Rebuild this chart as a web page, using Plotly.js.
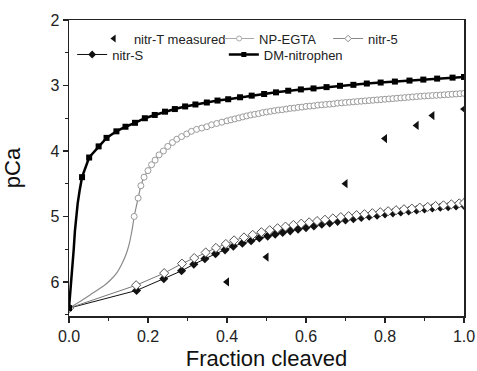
<!DOCTYPE html>
<html><head><meta charset="utf-8">
<script src="https://cdn.plot.ly/plotly-3.0.1.min.js"></script>
<style>html,body{margin:0;padding:0;background:#fff}#chart{width:477px;height:371px}</style>
</head><body><div id="chart"></div>
<script>
// nitr-T measured (points)
const nitrTX = [0.4, 0.5, 0.7, 0.8, 0.88, 0.92, 1.0];
const nitrTY = [6.0, 5.62, 4.5, 3.81, 3.61, 3.46, 3.36];

// NP-EGTA: leading part (line only) and marked part
const npLeadX = [0, 0.03, 0.06, 0.09, 0.105, 0.12, 0.135, 0.145, 0.152, 0.158, 0.162];
const npLeadY = [6.40, 6.29, 6.17, 6.05, 5.97, 5.87, 5.71, 5.57, 5.43, 5.26, 5.12];
const npX = [0.165,0.175,0.182,0.19,0.2,0.209,0.218,0.228,0.239,0.25,0.262,0.273,0.285,0.298,0.31,0.323,0.336,0.349,0.361,0.374,0.387,0.4,
  0.41,0.42,0.43,0.44,0.45,0.46,0.47,0.48,0.49,0.5,0.51,0.52,0.53,0.54,0.55,0.56,0.57,0.58,0.59,0.6,
  0.61,0.62,0.63,0.64,0.65,0.66,0.67,0.68,0.69,0.7,0.71,0.72,0.73,0.74,0.75,0.76,0.77,0.78,0.79,0.8,
  0.81,0.82,0.83,0.84,0.85,0.86,0.87,0.88,0.89,0.9,0.91,0.92,0.93,0.94,0.95,0.96,0.97,0.98,0.99,1.0];
const npY = [5.00,4.72,4.53,4.40,4.30,4.21,4.14,4.06,4.00,3.93,3.87,3.82,3.78,3.74,3.70,3.67,3.65,3.63,3.60,3.58,3.56,3.54,
  3.525,3.51,3.495,3.48,3.465,3.45,3.44,3.43,3.415,3.405,3.395,3.385,3.375,3.37,3.36,3.35,3.345,3.335,3.33,3.32,
  3.315,3.31,3.30,3.295,3.29,3.285,3.28,3.27,3.265,3.26,3.255,3.25,3.245,3.24,3.235,3.23,3.225,3.22,3.215,3.21,
  3.205,3.20,3.195,3.19,3.185,3.18,3.175,3.17,3.165,3.16,3.157,3.153,3.15,3.146,3.142,3.138,3.134,3.13,3.125,3.12];

// nitr-5 (open diamonds)
const n5X = [0,0.17,0.241,0.286,0.317,0.346,0.372,0.397,0.418,0.443,0.465,0.487,0.508,0.528,0.548,0.568,0.588,0.608,0.628,0.648,0.668,0.688,0.708,0.728,0.748,0.768,0.788,0.808,0.828,0.848,0.868,0.888,0.908,0.928,0.948,0.968,0.988,1.0];
const n5Y = [6.40,6.05,5.865,5.72,5.635,5.55,5.48,5.42,5.365,5.32,5.28,5.24,5.21,5.18,5.155,5.13,5.11,5.09,5.07,5.05,5.03,5.01,4.995,4.98,4.965,4.95,4.935,4.92,4.905,4.89,4.88,4.865,4.855,4.84,4.83,4.815,4.80,4.795];

// nitr-S (filled diamonds)
const nsX = [0,0.171,0.24,0.285,0.316,0.344,0.371,0.395,0.416,0.439,0.461,0.482,0.503,0.522,0.541,0.56,0.58,0.6,0.62,0.64,0.66,0.68,0.7,0.72,0.74,0.76,0.78,0.8,0.82,0.84,0.86,0.88,0.9,0.92,0.94,0.96,0.98,1.0];
const nsY = [6.40,6.13,5.95,5.83,5.73,5.645,5.57,5.51,5.455,5.41,5.37,5.33,5.30,5.27,5.245,5.22,5.195,5.17,5.145,5.12,5.10,5.075,5.055,5.035,5.015,4.995,4.98,4.96,4.945,4.93,4.915,4.90,4.885,4.87,4.86,4.85,4.84,4.83];

// DM-nitrophen: leading steep part (line only) and marked part
const dmLeadX = [0.003,0.006,0.009,0.012,0.015,0.018,0.022,0.027];
const dmLeadY = [6.2,6.0,5.75,5.5,5.22,5.0,4.8,4.6];
const dmX = [0,0.033,0.051,0.075,0.095,0.12,0.143,0.167,0.192,0.217,0.243,0.268,0.294,0.32,0.349,0.376,0.403,0.433,0.4625,0.494,0.524,0.555,0.587,0.619,0.652,0.686,0.72,0.754,0.789,0.825,0.862,0.897,0.932,0.971,1.0];
const dmY = [6.40,4.40,4.10,3.93,3.80,3.70,3.63,3.57,3.50,3.45,3.40,3.36,3.32,3.29,3.26,3.23,3.21,3.18,3.155,3.13,3.105,3.08,3.06,3.045,3.025,3.005,2.99,2.97,2.955,2.94,2.925,2.91,2.895,2.88,2.87];

function merge(ax, ay, bx, by){
  const pts = ax.map((v,i)=>[v,ay[i]]).concat(bx.map((v,i)=>[v,by[i]]));
  pts.sort((p,q)=>p[0]-q[0]);
  return [pts.map(p=>p[0]), pts.map(p=>p[1])];
}
const npLine = merge(npLeadX, npLeadY, npX, npY);
const dmLine = merge(dmLeadX, dmLeadY, dmX, dmY);

const F = '"Liberation Sans", Arial, sans-serif';
const traces = [
  {x: npLine[0], y: npLine[1], mode:'lines', line:{color:'#8a8a8a', width:1.2, shape:'spline', smoothing:0.6}, showlegend:false, hoverinfo:'skip'},
  {x: npX, y: npY, mode:'markers', marker:{symbol:'circle', size:6, color:'#fff', line:{color:'#9a9a9a', width:1}}, showlegend:false},
  {x: nsX, y: nsY, mode:'lines+markers', line:{color:'#111', width:1}, marker:{symbol:'diamond', size:7, color:'#111'}, showlegend:false},
  {x: n5X, y: n5Y, mode:'lines+markers', line:{color:'#777', width:1}, marker:{symbol:'diamond', size:7, color:'#fff', line:{color:'#555', width:1}}, showlegend:false},
  {x: dmLine[0], y: dmLine[1], mode:'lines', line:{color:'#000', width:2.5}, showlegend:false, hoverinfo:'skip'},
  {x: dmX, y: dmY, mode:'markers', marker:{symbol:'square', size:6, color:'#000'}, showlegend:false},
  {x: nitrTX, y: nitrTY, mode:'markers', marker:{symbol:'triangle-left', size:8, color:'#111'}, showlegend:false},
  // legend entries
  {x:[null], y:[null], name:'nitr-T measured', mode:'markers', marker:{symbol:'triangle-left', size:7, color:'#111'}, legend:'legend'},
  {x:[null], y:[null], name:'nitr-S', mode:'lines+markers', line:{color:'#111', width:1}, marker:{symbol:'diamond', size:6, color:'#111'}, legend:'legend4'},
  {x:[null], y:[null], name:'NP-EGTA', mode:'lines+markers', line:{color:'#aaa', width:1}, marker:{symbol:'circle', size:5, color:'#fff', line:{color:'#aaa', width:1}}, legend:'legend2'},
  {x:[null], y:[null], name:'DM-nitrophen', mode:'lines+markers', line:{color:'#000', width:2.5}, marker:{symbol:'square', size:5, color:'#000'}, legend:'legend5'},
  {x:[null], y:[null], name:'nitr-5', mode:'lines+markers', line:{color:'#888', width:1}, marker:{symbol:'diamond', size:5, color:'#fff', line:{color:'#888', width:1}}, legend:'legend3'}
];

const legBase = {bgcolor:'rgba(0,0,0,0)', borderwidth:0, font:{family:F, size:13, color:'#222'}, xanchor:'left', yanchor:'top', tracegroupgap:0, orientation:'v'};
const row1 = 0.988, row2 = 0.934;
const layout = {
  width:477, height:371,
  margin:{l:69, r:13, t:20, b:55},
  paper_bgcolor:'#fff', plot_bgcolor:'#fff',
  font:{family:F, color:'#222'},
  xaxis:{range:[0,1], dtick:0.2, tick0:0, tickformat:'.1f', ticks:'outside', ticklen:5, tickwidth:1.2, tickcolor:'#222',
    minor:{dtick:0.1, ticks:'outside', ticklen:3, tickwidth:1.2, tickcolor:'#222', showgrid:false},
    showline:true, linecolor:'#222', linewidth:1.5, mirror:true, showgrid:false, zeroline:false,
    tickfont:{family:F, size:16, color:'#222'},
    title:{text:'Fraction cleaved', font:{family:F, size:22, color:'#111'}, standoff:8}, automargin:false},
  yaxis:{range:[6.52,2], dtick:1, tick0:2, ticks:'outside', ticklen:5, tickwidth:1.2, tickcolor:'#222',
    minor:{dtick:0.5, ticks:'outside', ticklen:3, tickwidth:1.2, tickcolor:'#222', showgrid:false},
    showline:true, linecolor:'#222', linewidth:1.5, mirror:true, showgrid:false, zeroline:false,
    tickfont:{family:F, size:16, color:'#222'},
    title:{text:'pCa', font:{family:F, size:22, color:'#111'}, standoff:24}, automargin:false},
  legend: Object.assign({}, legBase, {x:0.063, y:row1}),
  legend4: Object.assign({}, legBase, {x:0.008, y:row2}),
  legend2: Object.assign({}, legBase, {x:0.380, y:row1}),
  legend5: Object.assign({}, legBase, {x:0.392, y:row2}),
  legend3: Object.assign({}, legBase, {x:0.656, y:row1}),
  showlegend:true
};
Plotly.newPlot('chart', traces, layout, {displayModeBar:false, staticPlot:true});
</script></body></html>
